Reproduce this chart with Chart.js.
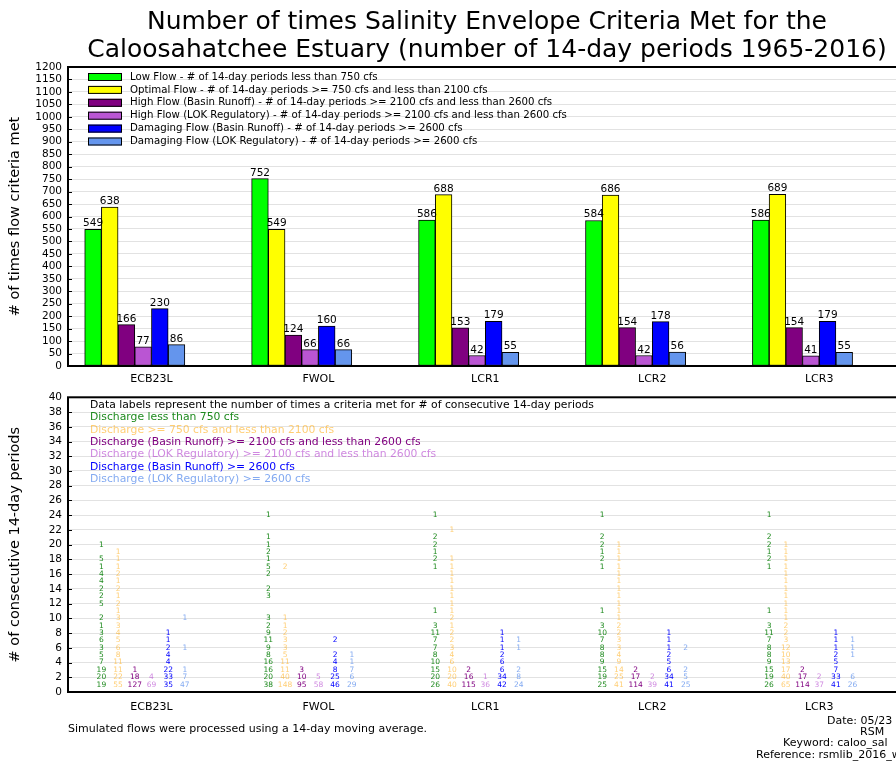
<!DOCTYPE html>
<html>
<head>
<meta charset="utf-8">
<title>Salinity Envelope Criteria - Caloosahatchee Estuary</title>
<script src="https://cdn.jsdelivr.net/npm/chart.js@4"></script>
<style>
  html, body { margin: 0; padding: 0; background: #fff; overflow: hidden; width: 896px; height: 761px; }
  body { position: relative; font-family: "DejaVu Sans", sans-serif; }
  #topChart { position: absolute; left: 0; top: 0; }
  #bottomChart { position: absolute; left: 0; top: 385px; }
  .note { position: absolute; font-size: 11px; line-height: 13px; white-space: nowrap; color: #000; }
</style>
</head>
<body>
<canvas id="topChart" width="920" height="390"></canvas>
<canvas id="bottomChart" width="920" height="335"></canvas>

<div class="note" style="left:68px; top:722px;">Simulated flows were processed using a 14-day moving average.</div>
<div class="note" style="left:827px; top:714px;">Date: 05/23</div>
<div class="note" style="left:860px; top:725px;">RSM</div>
<div class="note" style="left:783px; top:736px;">Keyword: caloo_sal</div>
<div class="note" style="left:756px; top:748px;">Reference: rsmlib_2016_w</div>

<script>
const stations = ["ECB23L", "FWOL", "LCR1", "LCR2", "LCR3"];

// number of 14-day periods per flow class (top panel)
const lowFlow = [549, 752, 586, 584, 586];
const optimalFlow = [638, 549, 688, 686, 689];
const highBasin = [166, 124, 153, 154, 154];
const highLok = [77, 66, 42, 42, 41];
const damagingBasin = [230, 160, 179, 178, 179];
const damagingLok = [86, 66, 55, 56, 55];

const barLabels = [
    "Low Flow - # of 14-day periods less than 750 cfs",
    "Optimal Flow - # of 14-day periods >= 750 cfs and less than 2100 cfs",
    "High Flow (Basin Runoff) - # of 14-day periods >= 2100 cfs and less than 2600 cfs",
    "High Flow (LOK Regulatory) - # of 14-day periods >= 2100 cfs and less than 2600 cfs",
    "Damaging Flow (Basin Runoff) - # of 14-day periods >= 2600 cfs",
    "Damaging Flow (LOK Regulatory) - # of 14-day periods >= 2600 cfs"
];
const barColors = ["#00ff00", "#ffff00", "#800080", "#ba55d3", "#0000ff", "#6495ed"];

// counts of consecutive runs (bottom panel), index 0 = 1 period, index 1 = 2 periods, ...
const runLow = [
    [19, 20, 19, 7, 5, 3, 6, 3, 1, 2, 0, 5, 2, 2, 4, 4, 1, 5, 0, 1],
    [38, 20, 16, 16, 8, 9, 11, 9, 2, 3, 0, 0, 3, 2, 0, 2, 5, 1, 2, 1, 1, 0, 0, 1],
    [26, 20, 15, 10, 8, 7, 7, 11, 3, 0, 1, 0, 0, 0, 0, 0, 1, 2, 1, 2, 2, 0, 0, 1],
    [25, 19, 15, 9, 8, 8, 7, 10, 3, 0, 1, 0, 0, 0, 0, 0, 1, 2, 1, 2, 2, 0, 0, 1],
    [26, 19, 15, 9, 8, 8, 7, 11, 3, 0, 1, 0, 0, 0, 0, 0, 1, 2, 1, 2, 2, 0, 0, 1]
];
const runOptimal = [
    [55, 22, 11, 11, 8, 6, 5, 4, 3, 3, 1, 2, 1, 2, 1, 2, 1, 1, 1],
    [148, 40, 11, 11, 5, 3, 3, 2, 1, 1, 0, 0, 0, 0, 0, 0, 2],
    [40, 20, 10, 6, 4, 3, 2, 2, 1, 2, 1, 1, 1, 1, 1, 1, 1, 1, 0, 0, 0, 1],
    [41, 25, 14, 9, 4, 3, 3, 2, 2, 1, 1, 1, 1, 1, 1, 1, 1, 1, 1, 1],
    [65, 40, 17, 13, 10, 12, 3, 2, 2, 1, 1, 1, 1, 1, 1, 1, 1, 1, 1, 1]
];
const runHighBasin = [[127, 18, 1], [95, 10, 3], [115, 16, 2], [114, 17, 2], [114, 17, 2]];
const runHighLok = [[69, 4], [58, 5], [36, 1], [39, 2], [37, 2]];
const runDamagingBasin = [
    [35, 33, 22, 4, 4, 2, 1, 1],
    [46, 25, 8, 4, 2, 0, 2],
    [42, 34, 6, 6, 2, 1, 1, 1],
    [41, 34, 6, 5, 2, 1, 1, 1],
    [41, 33, 7, 5, 2, 1, 1, 1]
];
const runDamagingLok = [
    [47, 7, 1, 0, 0, 1, 0, 0, 0, 1],
    [29, 6, 7, 1, 1],
    [24, 8, 2, 0, 0, 1, 1],
    [25, 5, 2, 0, 0, 2],
    [26, 6, 0, 0, 1, 1, 1]
];

const runNotes = [
    "Data labels represent the number of times a criteria met for # of consecutive 14-day periods",
    "Discharge less than 750 cfs",
    "Discharge >= 750 cfs and less than 2100 cfs",
    "Discharge (Basin Runoff) >= 2100 cfs and less than 2600 cfs",
    "Discharge (LOK Regulatory) >= 2100 cfs and less than 2600 cfs",
    "Discharge (Basin Runoff) >= 2600 cfs",
    "Discharge (LOK Regulatory) >= 2600 cfs"
];
const runColors = ["#1e8a1e", "rgba(255,165,0,0.55)", "#800080", "rgba(186,85,211,0.7)", "#0000ff", "rgba(100,149,237,0.8)"];

Chart.defaults.font.family = "'DejaVu Sans', sans-serif";
Chart.defaults.color = "#000";
Chart.defaults.animation = false;

const FONT = "'DejaVu Sans', sans-serif";

// box around the plot plus small inward ticks on the y axis
function drawFrame(chart) {
    const ctx = chart.ctx;
    const area = chart.chartArea;
    const yScale = chart.scales.y;
    ctx.save();
    ctx.strokeStyle = "#000";
    ctx.lineWidth = 1;
    yScale.ticks.forEach(t => {
        const py = Math.round(yScale.getPixelForValue(t.value)) + 0.5;
        ctx.beginPath();
        ctx.moveTo(area.left, py);
        ctx.lineTo(area.left + 4, py);
        ctx.moveTo(area.right, py);
        ctx.lineTo(area.right - 4, py);
        ctx.stroke();
    });
    ctx.lineWidth = 2;
    ctx.strokeRect(area.left, area.top, area.right - area.left, area.bottom - area.top);
    ctx.restore();
}

// x ticks sit under the middle of each group of bars
function stationTicks(axis) {
    axis.ticks = stations.map((s, i) => ({ value: i + 0.4 }));
}

const topExtras = {
    id: "topExtras",
    afterDatasetsDraw(chart) {
        const ctx = chart.ctx;
        const area = chart.chartArea;
        ctx.save();
        // value labels above bars
        ctx.font = "10.5px " + FONT;
        ctx.fillStyle = "#000";
        ctx.textAlign = "center";
        ctx.textBaseline = "alphabetic";
        chart.data.datasets.forEach((ds, k) => {
            chart.getDatasetMeta(k).data.forEach((bar, i) => {
                ctx.fillText(ds.data[i].y, bar.x, bar.y - 3);
            });
        });
        // legend inside the plot
        ctx.textAlign = "left";
        ctx.textBaseline = "middle";
        ctx.font = "10.2px " + FONT;
        chart.data.datasets.forEach((ds, k) => {
            const y = area.top + 10 + k * 12.9;
            ctx.fillStyle = ds.backgroundColor;
            ctx.fillRect(area.left + 20, y - 4, 34, 8);
            ctx.strokeStyle = "#000";
            ctx.lineWidth = 1;
            ctx.strokeRect(area.left + 20.5, y - 3.5, 33, 7);
            ctx.fillStyle = "#000";
            ctx.fillText(ds.label, area.left + 62, y);
        });
        ctx.restore();
        drawFrame(chart);
    }
};

const bottomExtras = {
    id: "bottomExtras",
    afterDatasetsDraw(chart) {
        const ctx = chart.ctx;
        const area = chart.chartArea;
        ctx.save();
        // run counts as text at (station, run length)
        ctx.font = "7.5px " + FONT;
        ctx.textAlign = "center";
        ctx.textBaseline = "middle";
        chart.data.datasets.forEach((ds, k) => {
            ctx.fillStyle = ds.textColor;
            chart.getDatasetMeta(k).data.forEach((pt, j) => {
                ctx.fillText(ds.data[j].count, pt.x, pt.y);
            });
        });
        // text legend
        ctx.textAlign = "left";
        ctx.font = "10.8px " + FONT;
        runNotes.forEach((line, r) => {
            ctx.fillStyle = r === 0 ? "#000" : runColors[r - 1];
            ctx.fillText(line, area.left + 22, area.top + 8 + r * 12.3);
        });
        ctx.restore();
        drawFrame(chart);
    }
};

// top panel: grouped bars
const barSeries = [lowFlow, optimalFlow, highBasin, highLok, damagingBasin, damagingLok];
const barDatasets = barSeries.map((vals, k) => ({
    label: barLabels[k],
    data: vals.map((v, i) => ({ x: i + 0.05 + 0.1 * k, y: v })),
    backgroundColor: barColors[k],
    borderColor: "#000",
    borderWidth: 1,
    borderSkipped: false,
    barThickness: 16.7,
    grouped: false
}));

new Chart(document.getElementById("topChart").getContext("2d"), {
    type: "bar",
    data: { datasets: barDatasets },
    options: {
        responsive: false,
        events: [],
        layout: { padding: { top: 1, right: 14, left: 0, bottom: 0 } },
        plugins: {
            legend: { display: false },
            tooltip: { enabled: false },
            title: {
                display: true,
                fullSize: false,
                text: ["Number of times Salinity Envelope Criteria Met for the",
                       "Caloosahatchee Estuary (number of 14-day periods 1965-2016)"],
                font: { size: 25, weight: "normal", lineHeight: 1.12 },
                color: "#000",
                padding: { top: 7, bottom: 3 }
            }
        },
        scales: {
            x: {
                type: "linear",
                min: -0.1,
                max: 4.92,
                offset: false,
                afterBuildTicks: stationTicks,
                ticks: {
                    callback: (v, i) => stations[i],
                    font: { size: 11 },
                    padding: 7,
                    autoSkip: false,
                    maxRotation: 0
                },
                grid: { display: false, drawTicks: false },
                border: { display: false },
                afterFit: axis => { axis.height = 24; }
            },
            y: {
                min: 0,
                max: 1200,
                ticks: { stepSize: 50, autoSkip: false, font: { size: 10.5 }, padding: 6, callback: v => String(v) },
                grid: { color: "#e2e2e2", drawTicks: false },
                border: { display: false },
                title: { display: true, text: "# of times flow criteria met", font: { size: 14.5 }, padding: { top: 7 } },
                afterFit: axis => { axis.width = 68; }
            }
        }
    },
    plugins: [topExtras]
});

// bottom panel: run counts placed by station and run length
const runSeries = [runLow, runOptimal, runHighBasin, runHighLok, runDamagingBasin, runDamagingLok];
const runDatasets = runSeries.map((series, k) => {
    let points = [];
    series.forEach((counts, i) => {
        counts.forEach((c, idx) => {
            if (c > 0) points.push({ x: i + 0.1 * (k + 1), y: idx + 1, count: c });
        });
    });
    return { label: runNotes[k + 1], data: points, pointRadius: 0, textColor: runColors[k] };
});

new Chart(document.getElementById("bottomChart").getContext("2d"), {
    type: "scatter",
    data: { datasets: runDatasets },
    options: {
        responsive: false,
        events: [],
        layout: { padding: { top: 12, right: 14, left: 0, bottom: 0 } },
        plugins: {
            legend: { display: false },
            tooltip: { enabled: false }
        },
        scales: {
            x: {
                type: "linear",
                min: -0.1,
                max: 4.92,
                afterBuildTicks: stationTicks,
                ticks: {
                    callback: (v, i) => stations[i],
                    font: { size: 11 },
                    padding: 9,
                    autoSkip: false,
                    maxRotation: 0
                },
                grid: { display: false, drawTicks: false },
                border: { display: false },
                afterFit: axis => { axis.height = 28; }
            },
            y: {
                min: 0,
                max: 40,
                ticks: { stepSize: 2, autoSkip: false, font: { size: 10.5 }, padding: 6, callback: v => String(v) },
                grid: { color: "#e2e2e2", drawTicks: false },
                border: { display: false },
                title: { display: true, text: "# of consecutive 14-day periods", font: { size: 14.5 }, padding: { top: 7 } },
                afterFit: axis => { axis.width = 68; }
            }
        }
    },
    plugins: [bottomExtras]
});
</script>
</body>
</html>
